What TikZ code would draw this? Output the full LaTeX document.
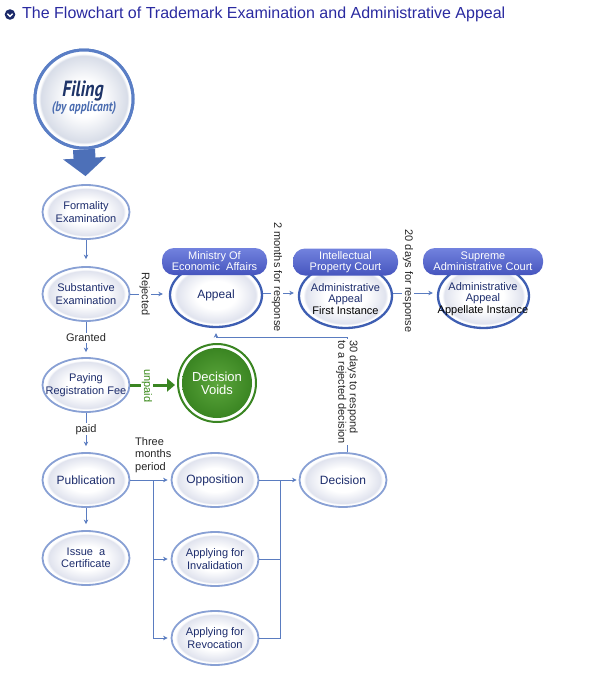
\documentclass[tikz,border=0pt]{standalone}
\usepackage{fontspec}
\setmainfont{Liberation Sans}
\newfontfamily\filingfont{PT Sans}[FakeStretch=0.82]
\usetikzlibrary{arrows.meta,shapes.geometric,calc}
\definecolor{connc}{HTML}{5A7CC0}
\definecolor{ellborder}{HTML}{88A0D4}
\definecolor{courtborder}{HTML}{3E5EB2}
\definecolor{navy}{HTML}{1C2C6C}
\definecolor{ellgray}{HTML}{E0E3EE}
\definecolor{lblTop}{HTML}{7282DE}
\definecolor{lblBot}{HTML}{4655BE}
\definecolor{filborder}{HTML}{5A7EC5}
\definecolor{filgray}{HTML}{D8DDE8}
\definecolor{filnavy}{HTML}{1E3468}
\definecolor{filblue}{HTML}{4A6CB0}
\definecolor{bigarrow}{HTML}{4D70B8}
\definecolor{gdark}{HTML}{3A8522}
\definecolor{glight}{HTML}{5CA63C}
\definecolor{gtext}{HTML}{3A8A1A}
\definecolor{titleblue}{HTML}{2A2AA0}
\definecolor{bulletc}{HTML}{1C2A6A}
\pgfdeclareradialshading{ellfill}{\pgfpointorigin}{color(0bp)=(white); color(11bp)=(white); color(21.5bp)=(ellgray); color(22.8bp)=(white); color(25bp)=(white); color(50bp)=(white)}
\pgfdeclareradialshading{filfill}{\pgfpointorigin}{color(0bp)=(white); color(9bp)=(white); color(22bp)=(filgray); color(23.2bp)=(white); color(25bp)=(white); color(50bp)=(white)}
\tikzset{
  ell/.style={ellipse, draw=ellborder, line width=1.8pt, shading=ellfill,
    minimum width=87pt, minimum height=54pt, inner xsep=-14pt, inner ysep=0pt, align=center,
    text=navy, font=\fontsize{11}{12.5}\selectfont},
  ellbig/.style={ell, font=\fontsize{12}{14}\selectfont},
  court/.style={ellipse, draw=courtborder, line width=2.3pt, shading=ellfill,
    minimum width=92pt, minimum height=64pt, inner xsep=-24pt, inner ysep=0pt, align=center,
    text=navy, font=\fontsize{11}{11.5}\selectfont},
  courttext/.style={align=center, text=navy, inner sep=0pt, font=\fontsize{11}{11.5}\selectfont},
  courtlbl/.style={rectangle, rounded corners=12pt, top color=lblTop, bottom color=lblBot,
    text=white, minimum width=105pt, minimum height=27pt, align=center, inner sep=1pt,
    font=\fontsize{11}{11}\selectfont},
  conn/.style={draw=connc, line width=0.8pt},
  arr/.style={conn, -{Stealth[length=4.5pt,width=4.5pt]}},
  lbl/.style={font=\fontsize{11}{12.5}\selectfont, text=black!85, fill=white, inner sep=1pt},
}
\begin{document}
\begin{tikzpicture}[x=1pt,y=-1pt]
\useasboundingbox (0,0) rectangle (594,681);
% title
\node[circle, fill=bulletc, minimum size=10.6pt, inner sep=0pt] (bullet) at (10,14.5) {};
\draw[white, line width=1.4pt] ($(bullet)+(-2.6,-0.8)$) -- ($(bullet)+(0,1.9)$) -- ($(bullet)+(2.6,-0.8)$);
\node[anchor=base west, text=titleblue, font=\fontsize{16}{18}\selectfont, inner sep=0pt] (title) at (22,18.5) {The Flowchart of Trademark Examination and Administrative Appeal};

% left column
\node[ell] (form) at (86,212) {Formality\\Examination};
\node[ell] (subst) at (86,294) {Substantive\\Examination};
\node[ell] (pay) at (86,385) {Paying\\Registration Fee};
\node[ellbig] (pub) at (86,480) {Publication};
\node[ell] (issue) at (86,558) {Issue~~a\\Certificate};

% filing
\node[circle, minimum size=98pt, draw=filborder, line width=3pt, shading=filfill] (filing) at (84,99) {};
\draw[bigarrow, line width=22pt, -{Triangle[length=18pt,width=42pt]}, shorten >=8pt] (filing.south) -- (form.north);
\node[circle, minimum size=98pt, draw=filborder, line width=3pt, shading=filfill] (filing2) at (filing) {};
\node[text=filnavy, font=\filingfont\bfseries\itshape\fontsize{22}{24}\selectfont, inner sep=0pt] (filingt) at (83,91.5) {Filing};
\node[text=filblue, font=\filingfont\bfseries\itshape\fontsize{14}{16}\selectfont, inner sep=0pt] (filings) at (84,108) {(by applicant)};

% middle column
\node[ellbig] (opp) at (215,480) {Opposition};
\node[ell] (inv) at (215,559) {Applying for\\Invalidation};
\node[ell] (rev) at (215,638) {Applying for\\Revocation};
\node[ellbig] (dec) at (343,480) {Decision};

% courts
\node[court, font=\fontsize{12}{14}\selectfont] (appeal) at (216,295) {Appeal};
\node[court, minimum width=93pt] (ipc) at (345.5,296) {};
\node[court, minimum width=91pt] (sac) at (483.5,296) {};
\node[courttext] (ipct) at (345.5,299) {Administrative\\Appeal\\\textcolor{black}{First Instance}};
\node[courttext] (sact) at (483,299) {Administrative\\Appeal\\\textcolor{black}{Appellate Instance}};
\node[courtlbl] (lmoea) at (214.5,261.5) {Ministry Of\\Economic~~Affairs};
\node[courtlbl] (lipc) at (345.5,262) {Intellectual\\Property Court};
\node[courtlbl, minimum width=120pt] (lsac) at (483,261.5) {Supreme\\Administrative Court};

% decision voids
\node[circle, minimum size=78pt, draw=gdark, line width=2pt, fill=white] (voids) at (217,383) {};
\node[circle, minimum size=70pt, inner sep=0pt, inner color=glight, outer color=gdark, text=white, align=center, font=\fontsize{13}{13}\selectfont] (voidsin) at (voids) {Decision\\Voids};

% connectors
\draw[arr, shorten >=7pt] (form) -- (subst);
\draw[arr, shorten >=5pt] (subst) -- node[lbl, pos=0.45] (granted) {Granted} (pay);
\draw[arr, shorten >=6pt] (pay) -- node[lbl, pos=0.42] (paid) {paid} (pub);
\draw[arr, shorten >=6pt] (pub) -- (issue);
\draw[arr, shorten >=6pt] (subst.east) -- node[lbl, rotate=-90, pos=0.37] (rej) {Rejected} (subst.east -| appeal.west);

\coordinate (jl) at (153,480);
\coordinate (jr) at (280,480);
\draw[arr, shorten >=3pt] (pub) -- (opp);
\draw[conn] (jl) -- (jl |- rev);
\draw[arr, shorten >=3pt] (jl |- inv) -- (inv);
\draw[arr, shorten >=3pt] (jl |- rev) -- (rev);
\draw[arr, shorten >=2pt] (opp) -- (dec);
\draw[conn] (inv.east) -| (jr);
\draw[conn] (rev.east) -| (jr);
\node[lbl, align=left, anchor=north west, font=\fontsize{11}{12.5}\selectfont] (three) at (134,436) {Three\\months\\period};

\draw[arr, shorten >=4pt] (appeal.east |- 0,293) -- (ipc.west |- 0,293);
\node[lbl, rotate=-90] (m2) at (277,277) {2 months for response};
\draw[arr, shorten >=4pt] (ipc.east |- 0,293) -- (sac.west |- 0,293);
\node[lbl, rotate=-90] (d20) at (408,281) {20 days for response};

\coordinate (turn) at (347,337);
\draw[arr, shorten >=5pt] (dec.north -| turn) -- (turn) -| (appeal.south);
\node[lbl, rotate=-90, align=left, font=\fontsize{11}{11.5}\selectfont] (d30) at (347,392) {30 days to respond\\to a rejected decision};

\draw[gdark, line width=3pt, -{Triangle[length=8pt,width=13pt]}, shorten >=2pt] (pay.east) -- (pay.east -| voids.west);
\node[lbl, rotate=-90, text=gtext] (unpaid) at (147,386) {unpaid};
\end{tikzpicture}
\end{document}
